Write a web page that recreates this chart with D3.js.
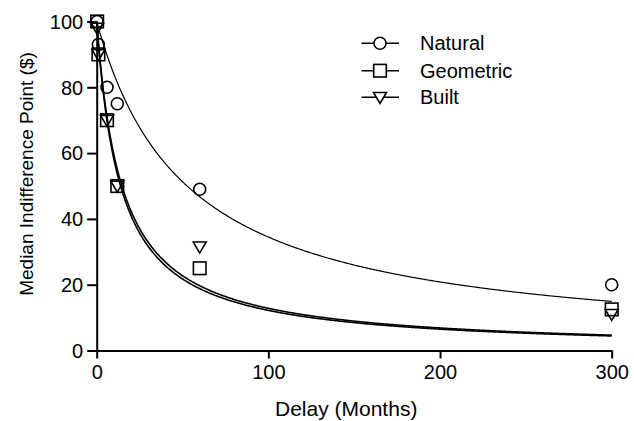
<!DOCTYPE html>
<html>
<head>
<meta charset="utf-8">
<script src="https://cdn.jsdelivr.net/npm/d3@7"></script>
<style>
  html, body { margin: 0; padding: 0; background: #fff; }
  svg { display: block; }
  text { font-family: "Liberation Sans", Arial, sans-serif; fill: #000; }
</style>
</head>
<body>
<svg id="chart" width="634" height="421"></svg>
<script>
// ---- data ----
const delays = [0.25, 1, 6, 12, 60, 300];            // months
const naturalValues   = [100, 93, 80, 75, 49, 20];
const geometricValues = [100, 90, 70, 50, 25, 12.5];
const builtValues     = [98, 90, 70, 50, 31.5, 11];
const seriesNames = ["Natural", "Geometric", "Built"];
const seriesSymbols = ["circle", "square", "triangle"];
// hyperbolic fit V = A / (1 + k D)
const fitA = [100, 100, 100];
const fitK = [0.019, 0.072, 0.068];
const xTicks = [0, 100, 200, 300];
const yTicks = [0, 20, 40, 60, 80, 100];

const seriesValues = [naturalValues, geometricValues, builtValues];

// ---- layout ----
const W = 634, H = 421;
const margin = { left: 96.7, right: 22.3, top: 21.5, bottom: 70.5 };
const svg = d3.select("#chart");

const x = d3.scaleLinear().domain([0, 300]).range([margin.left, W - margin.right]);
const y = d3.scaleLinear().domain([0, 100]).range([H - margin.bottom, margin.top]);

// ---- fitted curves ----
const curveX = d3.range(0, 300.01, 0.5);
const line = d3.line().x(d => x(d[0])).y(d => y(d[1]));
const curveWidths = [1.2, 1.6, 1.6];
seriesNames.forEach((name, i) => {
  const pts = curveX.map(dx => [dx, fitA[i] / (1 + fitK[i] * dx)]);
  svg.append("path")
    .attr("d", line(pts))
    .attr("fill", "none")
    .attr("stroke", "#000")
    .attr("stroke-width", curveWidths[i]);
});

// ---- markers ----
function drawSymbol(g, type, cx, cy) {
  if (type === "circle") {
    g.append("circle").attr("cx", cx).attr("cy", cy).attr("r", 6);
  } else if (type === "square") {
    g.append("rect").attr("x", cx - 6.3).attr("y", cy - 6.3).attr("width", 12.6).attr("height", 12.6);
  } else {
    const s = 6.5;
    g.append("path").attr("d", `M${cx - s},${cy - s * 0.75}L${cx + s},${cy - s * 0.75}L${cx},${cy + s * 0.95}Z`);
  }
}

const markG = svg.append("g")
  .attr("fill", "none")
  .attr("stroke", "#000")
  .attr("stroke-width", 1.6);
seriesValues.forEach((vals, i) => {
  vals.forEach((v, j) => drawSymbol(markG, seriesSymbols[i], x(delays[j]), y(v)));
});

// ---- axes ----
const xAxis = d3.axisBottom(x).tickValues(xTicks).tickSize(8).tickPadding(6).tickSizeOuter(0);
const yAxis = d3.axisLeft(y).tickValues(yTicks).tickSize(9.5).tickPadding(4).tickSizeOuter(0);

const gx = svg.append("g").attr("transform", `translate(0,${y(0)})`).call(xAxis);
const gy = svg.append("g").attr("transform", `translate(${x(0)},0)`).call(yAxis);
[gx, gy].forEach(g => {
  g.select(".domain").attr("stroke", "#000").attr("stroke-width", 2);
  g.selectAll(".tick line").attr("stroke", "#000").attr("stroke-width", 2);
  g.selectAll(".tick text").attr("fill", "#000")
    .style("font-family", '"Liberation Sans", Arial, sans-serif')
    .style("font-size", "20px");
});
gy.selectAll(".tick text").attr("dy", "0.34em");

// ---- axis titles ----
svg.append("text")
  .attr("x", (x(0) + x(300)) / 2 - 8)
  .attr("y", 416)
  .attr("text-anchor", "middle")
  .style("font-size", "21px")
  .text("Delay (Months)");

svg.append("text")
  .attr("transform", `translate(33, ${(y(0) + y(100)) / 2 - 12}) rotate(-90)`)
  .attr("text-anchor", "middle")
  .style("font-size", "19px")
  .text("Median Indifference Point ($)");

// ---- legend ----
const legendY = [43.3, 70.7, 97.3];
const lg = svg.append("g");
seriesNames.forEach((name, i) => {
  const ly = legendY[i];
  lg.append("line").attr("x1", 361.5).attr("x2", 399).attr("y1", ly).attr("y2", ly)
    .attr("stroke", "#000").attr("stroke-width", 1.6);
  const sg = lg.append("g").attr("fill", "#fff").attr("stroke", "#000").attr("stroke-width", 1.6);
  drawSymbol(sg, seriesSymbols[i], 380, ly);
  lg.append("text").attr("x", 420).attr("y", ly).attr("dy", "0.35em")
    .style("font-size", "20px").text(name);
});
</script>
</body>
</html>
